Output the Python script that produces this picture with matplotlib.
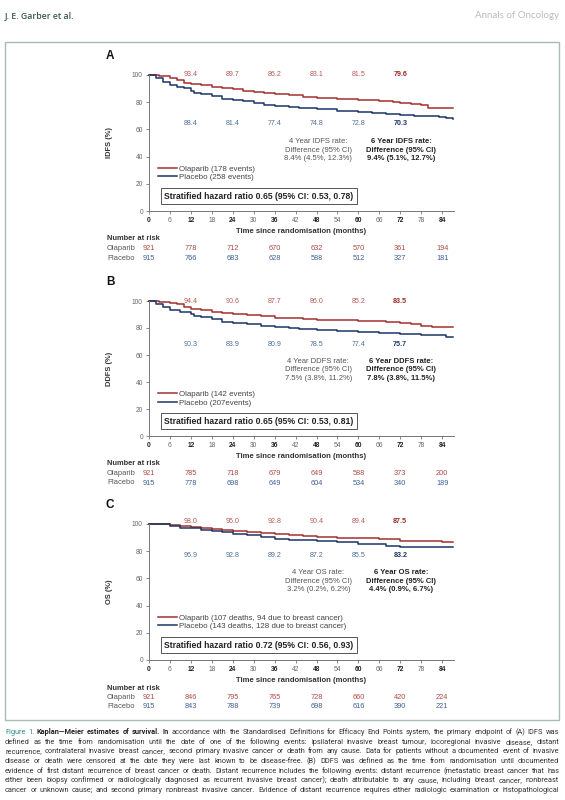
import matplotlib
matplotlib.use("Agg")
import matplotlib.pyplot as plt
import matplotlib.transforms as mtransforms
from matplotlib.patches import Rectangle

plt.rcParams['font.family'] = ['Liberation Sans', 'DejaVu Sans']

W, H = 565, 800

# ---------------- data ----------------
rate_months = [12, 24, 36, 48, 60, 72]
risk_months = [0, 12, 24, 36, 48, 60, 72, 84]

# A: invasive disease-free survival
idfs_ola_t = [0, 3, 6, 8, 10, 12, 15, 18, 21, 24, 27, 30, 33, 36, 40, 44, 48, 54, 60, 66, 70, 72, 75, 78, 80, 82, 84, 87]
idfs_ola_s = [100, 99.0, 97.5, 96.0, 94.0, 93.4, 92.6, 91.3, 90.4, 89.7, 88.6, 87.8, 86.9, 86.2, 85.2, 83.7, 83.1, 82.3,
              81.5, 81.1, 80.2, 79.6, 78.7, 77.8, 76.1, 76.0, 75.6, 75.5]
idfs_pla_t = [0, 2, 4, 6, 8, 10, 12, 13, 15, 18, 21, 24, 27, 30, 33, 36, 40, 43, 48, 54, 60, 64, 68, 72, 76, 80, 83, 85, 87]
idfs_pla_s = [100, 97.5, 94.5, 92.5, 91.0, 90.2, 88.4, 87.0, 86.3, 84.6, 82.3, 81.4, 80.6, 79.6, 78.2, 77.4, 76.8, 75.6,
              74.8, 73.6, 72.8, 72.2, 71.2, 70.3, 70.0, 69.5, 68.8, 68.2, 68.0]
idfs_ola_rates = [93.4, 89.7, 86.2, 83.1, 81.5, 79.6]
idfs_pla_rates = [88.4, 81.4, 77.4, 74.8, 72.8, 70.3]
idfs_ola_risk = [921, 778, 712, 670, 632, 570, 361, 194]
idfs_pla_risk = [915, 766, 683, 628, 588, 512, 327, 181]

# B: distant disease-free survival
ddfs_ola_t = [0, 3, 6, 8, 10, 12, 15, 18, 21, 24, 28, 32, 36, 40, 44, 48, 54, 60, 64, 68, 72, 75, 78, 81, 84, 87]
ddfs_ola_s = [100, 99.2, 98.6, 97.6, 95.2, 94.4, 93.6, 92.2, 91.2, 90.6, 89.6, 88.6, 87.7, 87.1, 86.5, 86.0, 85.6, 85.2,
              85.0, 84.4, 83.5, 82.6, 81.6, 80.6, 80.5, 80.5]
ddfs_pla_t = [0, 2, 4, 6, 9, 12, 13, 15, 18, 21, 24, 28, 32, 36, 40, 43, 48, 54, 60, 66, 72, 78, 82, 85, 87]
ddfs_pla_s = [100, 97.6, 95.2, 93.4, 92.0, 90.3, 89.0, 88.3, 86.8, 84.8, 83.9, 82.6, 81.6, 80.9, 80.0, 78.9, 78.5, 78.0,
              77.4, 76.5, 75.7, 75.0, 74.5, 73.6, 73.3]
ddfs_ola_rates = [94.4, 90.6, 87.7, 86.0, 85.2, 83.5]
ddfs_pla_rates = [90.3, 83.9, 80.9, 78.5, 77.4, 75.7]
ddfs_ola_risk = [921, 785, 718, 679, 649, 588, 373, 200]
ddfs_pla_risk = [915, 778, 698, 649, 604, 534, 340, 189]

# C: overall survival
os_ola_t = [0, 3, 6, 9, 12, 15, 18, 21, 24, 28, 32, 36, 40, 44, 48, 54, 60, 66, 72, 78, 84, 87]
os_ola_s = [100, 100, 99.2, 98.6, 98.0, 97.1, 96.2, 95.6, 95.0, 94.1, 93.5, 92.8, 92.0, 91.1, 90.4, 90.0, 89.4, 88.8,
            87.5, 87.2, 87.0, 86.8]
os_pla_t = [0, 3, 6, 9, 12, 15, 18, 21, 24, 28, 32, 36, 40, 44, 48, 54, 60, 64, 68, 72, 78, 84, 87]
os_pla_s = [100, 100, 98.6, 97.1, 96.9, 95.6, 94.6, 94.0, 92.8, 91.6, 90.6, 89.2, 88.6, 88.0, 87.2, 86.6, 85.5, 85.0,
            84.1, 83.2, 83.0, 82.9, 82.8]
os_ola_rates = [98.0, 95.0, 92.8, 90.4, 89.4, 87.5]
os_pla_rates = [96.9, 92.8, 89.2, 87.2, 85.5, 83.2]
os_ola_risk = [921, 846, 795, 765, 728, 660, 420, 224]
os_pla_risk = [915, 843, 788, 739, 698, 616, 390, 221]

panel_letters = ['A', 'B', 'C']
ylabels = ['IDFS (%)', 'DDFS (%)', 'OS (%)']
legend_ola = ['Olaparib (178 events)', 'Olaparib (142 events)', 'Olaparib (107 deaths, 94 due to breast cancer)']
legend_pla = ['Placebo (258 events)', 'Placebo (207events)', 'Placebo (143 deaths, 128 due to breast cancer)']
hr_text = ['Stratified hazard ratio 0.65 (95% CI: 0.53, 0.78)',
           'Stratified hazard ratio 0.65 (95% CI: 0.53, 0.81)',
           'Stratified hazard ratio 0.72 (95% CI: 0.56, 0.93)']
diff4_text = ['4 Year IDFS rate:\nDifference (95% CI)\n8.4% (4.5%, 12.3%)',
              '4 Year DDFS rate:\nDifference (95% CI)\n7.5% (3.8%, 11.2%)',
              '4 Year OS rate:\nDifference (95% CI)\n3.2% (0.2%, 6.2%)']
diff6_text = ['6 Year IDFS rate:\nDifference (95% CI)\n9.4% (5.1%, 12.7%)',
              '6 Year DDFS rate:\nDifference (95% CI)\n7.8% (3.8%, 11.5%)',
              '6 Year OS rate:\nDifference (95% CI)\n4.4% (0.9%, 6.7%)']

caption_lines = [
    "Figure 1. Kaplan—Meier estimates of survival. In accordance with the Standardised Definitions for Efficacy End Points system, the primary endpoint of (A) IDFS was",
    "defined as the time from randomisation until the date of one of the following events: ipsilateral invasive breast tumour, locoregional invasive disease, distant",
    "recurrence, contralateral invasive breast cancer, second primary invasive cancer or death from any cause. Data for patients without a documented event of invasive",
    "disease or death were censored at the date they were last known to be disease-free. (B) DDFS was defined as the time from randomisation until documented",
    "evidence of first distant recurrence of breast cancer or death. Distant recurrence includes the following events: distant recurrence (metastatic breast cancer that has",
    "either been biopsy confirmed or radiologically diagnosed as recurrent invasive breast cancer); death attributable to any cause, including breast cancer, nonbreast",
    "cancer or unknown cause; and second primary nonbreast invasive cancer. Evidence of distant recurrence requires either radiologic examination or histopathological",
]

curves = [(idfs_ola_t, idfs_ola_s, idfs_pla_t, idfs_pla_s),
          (ddfs_ola_t, ddfs_ola_s, ddfs_pla_t, ddfs_pla_s),
          (os_ola_t, os_ola_s, os_pla_t, os_pla_s)]
rates = [(idfs_ola_rates, idfs_pla_rates), (ddfs_ola_rates, ddfs_pla_rates), (os_ola_rates, os_pla_rates)]
risks = [(idfs_ola_risk, idfs_pla_risk), (ddfs_ola_risk, ddfs_pla_risk), (os_ola_risk, os_pla_risk)]

# ---------------- layout (pixels) ----------------
ax_left, ax_right = 149, 454
ax_tops = [75, 301, 524]
ax_bots = [211, 436, 660]
red_rate_y = [100, 99.3, 102]
blue_rate_y = [64, 68, 77]
diff_y = [44.7, 49, 58]

RED = '#a3302f'
BLUE = '#1b3464'
RED_TXT, RED_BOLD = '#b65955', '#9a2a2a'
BLUE_TXT, BLUE_BOLD = '#4c6d9a', '#1e3766'


def fx(x):
    return x / W


def fy(y):
    return 1 - y / H


fig = plt.figure(figsize=(W / 100, H / 100), dpi=100)
cap_family = 'Roboto'

# header + frame
fig.text(fx(5), fy(16), 'J. E. Garber et al.', fontsize=6.3, fontweight='semibold', color='#3b5a4b',
         family=['Open Sans', 'DejaVu Sans'], va='center')
fig.text(fx(559), fy(16), 'Annals of Oncology', fontsize=7, color='#bcbcbc', family=['Lato', 'DejaVu Sans'],
         ha='right', va='center')
fig.patches.append(Rectangle((fx(5), fy(720)), (559 - 5) / W, (720 - 42) / H, transform=fig.transFigure,
                             fill=False, ec='#a7bcb2', lw=1.0))

for i in range(3):
    top, bot = ax_tops[i], ax_bots[i]
    hpx = bot - top
    ax = fig.add_axes([fx(ax_left), fy(bot), (ax_right - ax_left) / W, hpx / H])
    ot, os_, pt, ps = curves[i]
    ax.plot(ot, os_, drawstyle='steps-post', color=RED, lw=1.1, label=legend_ola[i], clip_on=False)
    ax.plot(pt, ps, drawstyle='steps-post', color=BLUE, lw=1.1, label=legend_pla[i], clip_on=False)
    ax.set_xlim(0, 87.4)
    ax.set_ylim(0, 100)

    for s in ['top', 'right']:
        ax.spines[s].set_visible(False)
    for s in ['left', 'bottom']:
        ax.spines[s].set_color('#777777')
        ax.spines[s].set_linewidth(0.7)

    xt = list(range(0, 85, 6))
    ax.set_xticks(xt)
    ax.set_yticks(range(0, 101, 20))
    ax.tick_params(length=2.2, width=0.6, color='#777777', labelsize=4.8, labelcolor='#666666', pad=2.2)
    for lab, m in zip(ax.get_xticklabels(), xt):
        if m % 12 == 0:
            lab.set_fontweight('bold')
            lab.set_color('#222222')

    ax.set_xlabel('Time since randomisation (months)', fontsize=5.6, fontweight='bold', color='#333333')
    ax.xaxis.set_label_coords(0.5, -0.125)
    ax.set_ylabel(ylabels[i], fontsize=5.4, fontweight='bold', color='#333333')
    ax.yaxis.set_label_coords(-0.118, 0.5)

    # rates at 1..6 years
    ola_r, pla_r = rates[i]
    for m, v in zip(rate_months, ola_r):
        last = m == rate_months[-1]
        ax.text(m, red_rate_y[i], f'{v:.1f}', ha='center', va='center', fontsize=5.1,
                color=RED_BOLD if last else RED_TXT, fontweight='bold' if last else 'normal')
    for m, v in zip(rate_months, pla_r):
        last = m == rate_months[-1]
        ax.text(m, blue_rate_y[i], f'{v:.1f}', ha='center', va='center', fontsize=5.1,
                color=BLUE_BOLD if last else BLUE_TXT, fontweight='bold' if last else 'normal')

    ax.text(48.5, diff_y[i], diff4_text[i], ha='center', va='center', fontsize=5.5, color='#555555',
            linespacing=1.25)
    ax.text(72.2, diff_y[i], diff6_text[i], ha='center', va='center', fontsize=5.5, color='#222222',
            fontweight='bold', linespacing=1.25)

    leg = ax.legend(loc='center left', bbox_to_anchor=(2.6, 27.7), bbox_transform=ax.transData, frameon=False,
                    fontsize=5.7, handlelength=2.4, handletextpad=0.3, labelspacing=0.1, borderpad=0,
                    borderaxespad=0)
    for t in leg.get_texts():
        t.set_color('#444444')

    ax.text(31.5, 10.9, hr_text[i], ha='center', va='center', fontsize=6.2, fontweight='bold', color='#222222',
            bbox=dict(boxstyle='square,pad=0.4', fc='white', ec='#555555', lw=0.7))

    # panel letter
    fig.text(fx(106), fy(top - 19), panel_letters[i], fontsize=8.5, fontweight='bold', color='#111111',
             va='center')

    # number at risk table
    trans = mtransforms.blended_transform_factory(ax.transData, ax.transAxes)
    fig.text(fx(107), fy(bot + 28), 'Number at risk', fontsize=5.4, fontweight='bold', color='#333333', va='center')
    fig.text(fx(107), fy(bot + 37.8), 'Olaparib', fontsize=5.4, color='#555555', va='center')
    fig.text(fx(107), fy(bot + 47), 'Placebo', fontsize=5.4, color='#555555', va='center')
    ola_k, pla_k = risks[i]
    for m, n in zip(risk_months, ola_k):
        ax.text(m, -37.8 / hpx, str(n), transform=trans, ha='center', va='center', fontsize=5.3, color='#b04a47')
    for m, n in zip(risk_months, pla_k):
        ax.text(m, -47 / hpx, str(n), transform=trans, ha='center', va='center', fontsize=5.3, color='#3f6094')

# caption, justified word by word (baseline aligned)
renderer = fig.canvas.get_renderer()
cap_left, cap_right = 5, 559
target = cap_right - cap_left
base = 5.0
line_texts = []
for li, line in enumerate(caption_lines):
    words = line.split(' ')
    objs = []
    for wi, w in enumerate(words):
        color, weight = '#333333', 'normal'
        if li == 0 and wi < 2:
            color = '#2e8c86'
        elif li == 0 and wi < 7:
            weight = 'bold'
            color = '#222222'
        objs.append(fig.text(0, fy(734 + 9.7 * li), w, fontsize=base, color=color, fontweight=weight,
                             family=cap_family, va='baseline'))
    line_texts.append(objs)

probe1 = fig.text(0, 0, 'n n', fontsize=base, family=cap_family)
probe2 = fig.text(0, 0, 'nn', fontsize=base, family=cap_family)
space_w = probe1.get_window_extent(renderer).width - probe2.get_window_extent(renderer).width
probe1.remove()
probe2.remove()

natural = [sum(t.get_window_extent(renderer).width for t in objs) + space_w * (len(objs) - 1)
           for objs in line_texts[1:]]
size = base * target / max(natural) * 0.99
for objs in line_texts:
    for t in objs:
        t.set_fontsize(size)
    widths = [t.get_window_extent(renderer).width for t in objs]
    gap = (target - sum(widths)) / (len(objs) - 1)
    x = cap_left
    for t, w in zip(objs, widths):
        t.set_x(fx(x))
        x += w + gap

fig.savefig('out.png', dpi=100)
